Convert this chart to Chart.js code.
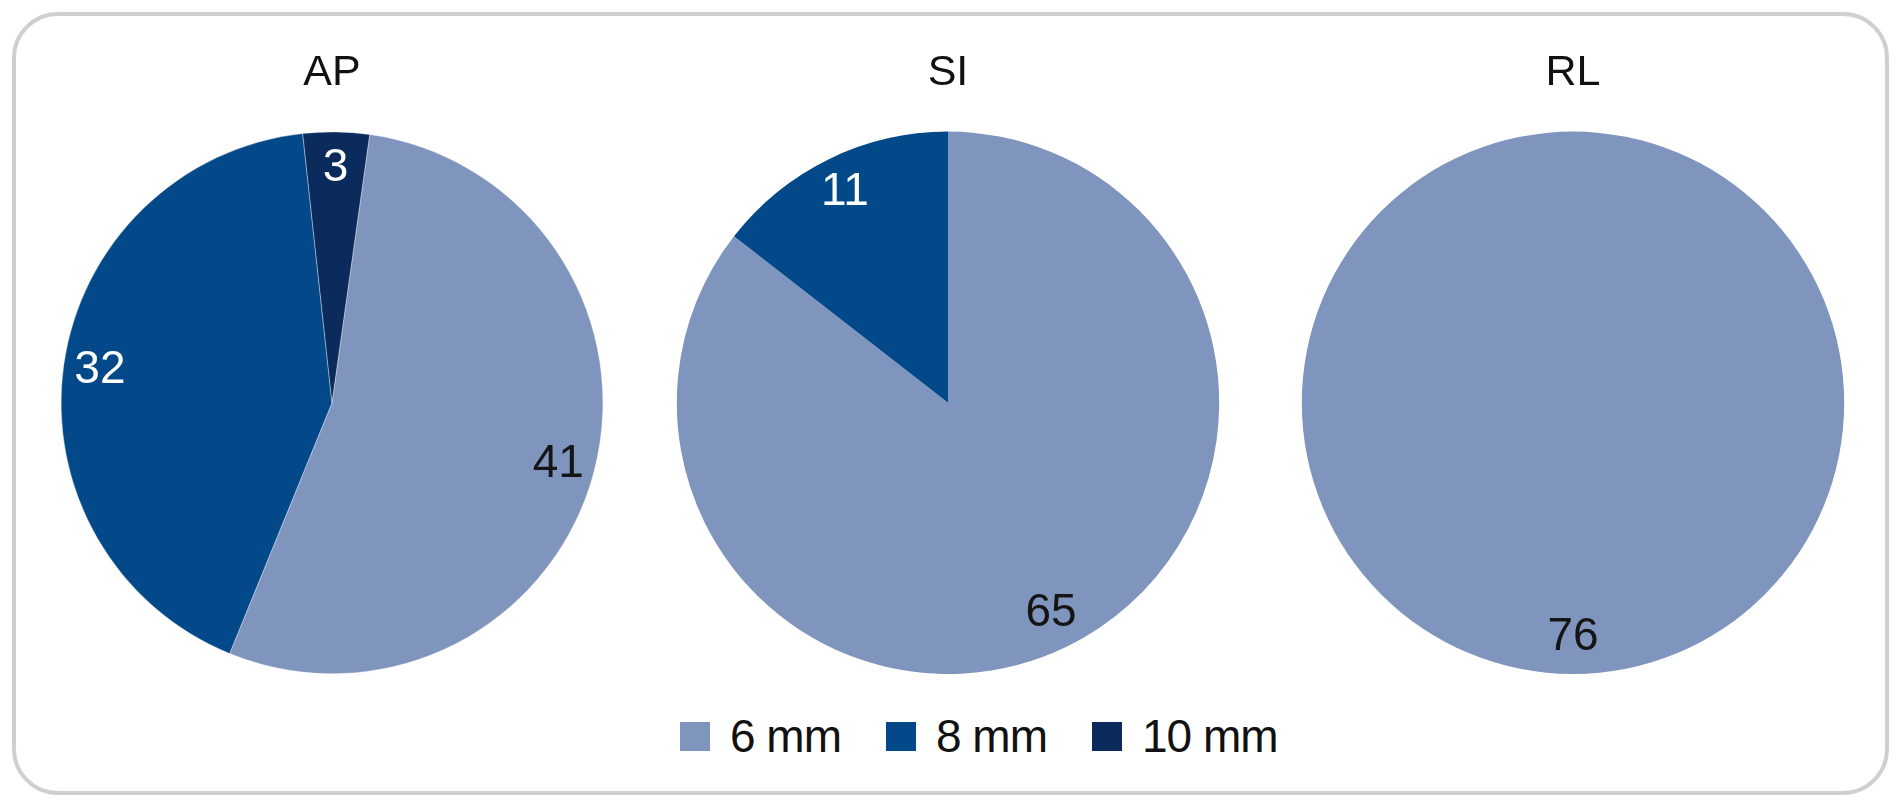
<!DOCTYPE html>
<html>
<head>
<meta charset="utf-8">
<script src="https://cdn.jsdelivr.net/npm/chart.js@4.4.1/dist/chart.umd.min.js"></script>
<style>
    html, body { margin: 0; padding: 0; background: #fff; }
    body { width: 1897px; height: 800px; position: relative; overflow: hidden;
           font-family: 'Liberation Sans', Arial, sans-serif; }
    #frame { position: absolute; left: 12px; top: 12px; width: 1877px; height: 783px;
             box-sizing: border-box; border: 4px solid #cfcfcf; border-radius: 46px; }
    canvas { position: absolute; top: 20px; }
    #legend { position: absolute; left: 680px; top: 714px; height: 44px;
              display: flex; align-items: center; font-size: 46px; letter-spacing: -1px; color: #111; }
    .item { display: flex; align-items: center; }
    .item + .item { margin-left: 45px; }
    .box { width: 30px; height: 29px; margin-right: 20px; }
</style>
</head>
<body>
<div id="frame"></div>
<canvas id="pieAP" width="600" height="654" style="left:32px"></canvas>
<canvas id="pieSI" width="600" height="654" style="left:648px"></canvas>
<canvas id="pieRL" width="600" height="654" style="left:1273px"></canvas>
<div id="legend"></div>

<script>
// categories and values
var sizes = ['6 mm', '8 mm', '10 mm'];
var titles = ['AP', 'SI', 'RL'];
var apValues = [41, 32, 3];
var siValues = [65, 11, 0];
var rlValues = [76, 0, 0];

var color = {
    light: '#7f95bd',
    mid: '#03498a',
    dark: '#0a2b5c'
};
var sliceColors = [color.light, color.mid, color.dark];
var labelColors = ['#151515', '#ffffff', '#ffffff'];

// draws the value inside each slice, near its outer edge
var sliceLabels = {
    id: 'sliceLabels',
    afterDatasetsDraw: function (chart) {
        var ctx = chart.ctx;
        var meta = chart.getDatasetMeta(0);
        var values = chart.data.datasets[0].data;
        ctx.save();
        ctx.font = '46px "Liberation Sans", Arial, sans-serif';
        ctx.textAlign = 'center';
        ctx.textBaseline = 'middle';
        meta.data.forEach(function (arc, i) {
            if (!values[i]) return;
            var p = arc.getProps(['x', 'y', 'startAngle', 'endAngle', 'outerRadius'], true);
            var mid = (p.startAngle + p.endAngle) / 2;
            var r = p.outerRadius * 0.865;
            ctx.fillStyle = labelColors[i];
            ctx.fillText(String(values[i]), p.x + Math.cos(mid) * r, p.y + Math.sin(mid) * r);
        });
        ctx.restore();
    }
};

function makePie(id, title, values, rotation, border) {
    var el = document.getElementById(id);
    if (el == null) return;
    return new Chart(el, {
        type: 'pie',
        data: {
            labels: sizes,
            datasets: [{
                data: values,
                backgroundColor: sliceColors,
                borderColor: 'rgba(255,255,255,0.6)',
                borderWidth: border,
                hoverOffset: 0
            }]
        },
        options: {
            responsive: false,
            animation: false,
            rotation: rotation,
            layout: { padding: 0 },
            events: [],
            plugins: {
                legend: { display: false },
                tooltip: { enabled: false },
                title: {
                    display: true,
                    text: title,
                    color: '#111',
                    font: { family: "'Liberation Sans', Arial, sans-serif", size: 43, weight: 'normal', lineHeight: 1.2 },
                    padding: { top: 27, bottom: 33 }
                }
            }
        },
        plugins: [sliceLabels]
    });
}

window.pieAP = makePie('pieAP', titles[0], apValues, 8, 0.6);
window.pieSI = makePie('pieSI', titles[1], siValues, 0, 0);
window.pieRL = makePie('pieRL', titles[2], rlValues, 0, 0);

// legend shared by the three pies
var legend = document.getElementById('legend');
sizes.forEach(function (s, i) {
    var item = document.createElement('div');
    item.className = 'item';
    var box = document.createElement('span');
    box.className = 'box';
    box.style.background = sliceColors[i];
    var txt = document.createElement('span');
    txt.textContent = s;
    item.appendChild(box);
    item.appendChild(txt);
    legend.appendChild(item);
});
</script>
</body>
</html>
